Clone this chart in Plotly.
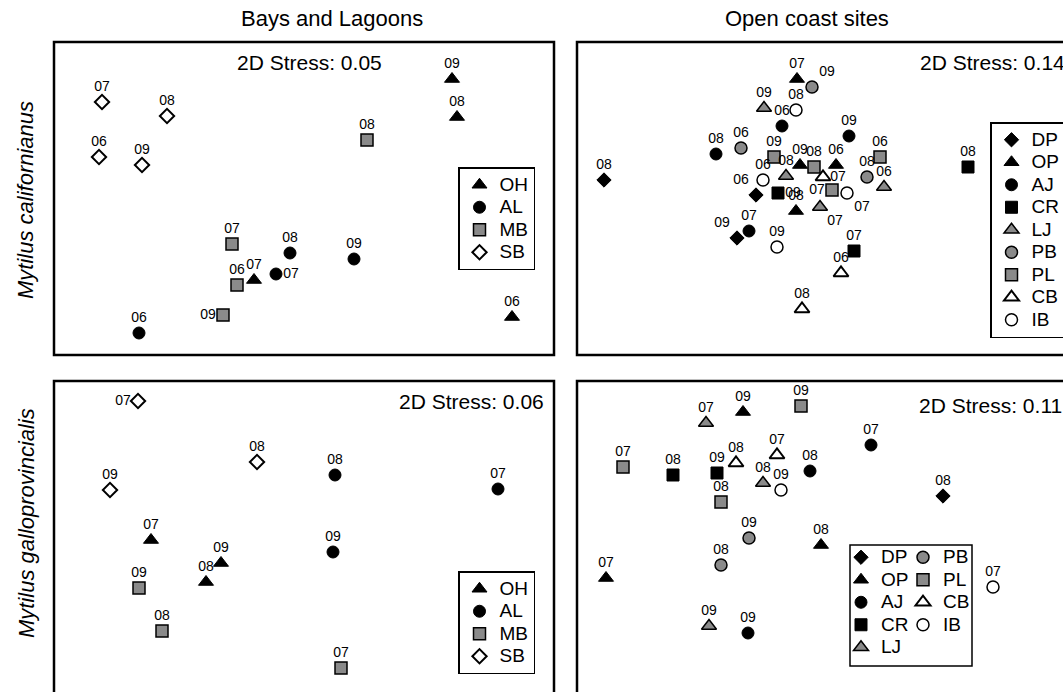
import plotly.graph_objects as go

W, H = 1063, 692

# ---------------- data: MDS scores (arbitrary units) ----------------
# Mytilus californianus - Bays and Lagoons
mcb_site = ["OH", "OH", "OH", "OH", "AL", "AL", "AL", "AL", "MB", "MB", "MB", "MB", "SB", "SB", "SB", "SB"]
mcb_year = ["06", "07", "08", "09", "06", "07", "08", "09", "06", "07", "08", "09", "06", "07", "08", "09"]
mcb_x = [458, 200, 403, 398, 85, 222, 236, 300, 183, 178, 313, 169, 45, 48, 113, 88]
mcb_y = [38, 75, 238, 276, 22, 81, 102, 96, 70, 111, 215, 40, 198, 253, 239, 190]

# Mytilus californianus - Open coast sites
mco_site = ["DP", "DP", "DP", "OP", "OP", "OP", "OP", "AJ", "AJ", "AJ", "AJ", "CR", "CR", "CR",
            "LJ", "LJ", "LJ", "LJ", "PB", "PB", "PB", "PL", "PL", "PL", "PL", "CB", "CB", "CB",
            "IB", "IB", "IB", "IB"]
mco_year = ["06", "08", "09", "06", "07", "08", "09", "06", "07", "08", "09", "07", "08", "09",
            "06", "07", "08", "09", "06", "08", "09", "06", "07", "08", "09", "06", "07", "08",
            "06", "07", "08", "09"]
mco_x = [179, 27, 160, 259, 220, 219, 223, 205, 172, 139, 272, 277, 391, 201,
         307, 243, 209, 187, 164, 290, 235, 303, 255, 237, 197, 264, 246, 225,
         186, 270, 219, 200]
mco_y = [160, 175, 117, 190, 276, 144, 190, 229, 124, 201, 219, 104, 188, 162,
         168, 148, 179, 247, 207, 178, 268, 198, 165, 188, 198, 82, 178, 46,
         175, 162, 245, 108]

# Mytilus galloprovincialis - Bays and Lagoons
mgb_site = ["OH", "OH", "OH", "AL", "AL", "AL", "MB", "MB", "MB", "SB", "SB", "SB"]
mgb_year = ["07", "08", "09", "07", "08", "09", "07", "08", "09", "07", "08", "09"]
mgb_x = [97, 152, 167, 444, 281, 279, 287, 108, 85, 84, 203, 56]
mgb_y = [154, 112, 131, 205, 219, 142, 26, 63, 106, 293, 232, 204]

# Mytilus galloprovincialis - Open coast sites
mgo_site = ["DP", "OP", "OP", "OP", "AJ", "AJ", "AJ", "CR", "CR", "LJ", "LJ", "LJ",
            "PB", "PB", "PL", "PL", "PL", "CB", "CB", "IB", "IB"]
mgo_year = ["08", "07", "08", "09", "07", "08", "09", "08", "09", "07", "08", "09",
            "08", "09", "07", "08", "09", "07", "08", "07", "09"]
mgo_x = [366, 29, 244, 166, 294, 233, 171, 96, 140, 129, 186, 132,
         144, 172, 46, 144, 224, 200, 159, 416, 204]
mgo_y = [198, 116, 149, 282, 249, 223, 61, 219, 221, 271, 211, 68,
         129, 156, 227, 192, 288, 239, 231, 107, 204]

bay_sites = ["OH", "AL", "MB", "SB"]
coast_sites = ["DP", "OP", "AJ", "CR", "LJ", "PB", "PL", "CB", "IB"]
stress = ["0.05", "0.14", "0.06", "0.11"]
col_titles = ["Bays and Lagoons", "Open coast sites"]
row_titles = ["Mytilus californianus", "Mytilus galloprovincialis"]

# ---------------- styles ----------------
GRAY = "#8a8a8a"
STYLE = {  # symbol, fill, line width, size
    "OH": ("triangle-up", "black", 1, 13),
    "AL": ("circle", "black", 1, 12),
    "MB": ("square", GRAY, 1.5, 12),
    "SB": ("diamond", "white", 2, 11),
    "DP": ("diamond", "black", 1, 11),
    "OP": ("triangle-up", "black", 1, 13),
    "AJ": ("circle", "black", 1, 12),
    "CR": ("square", "black", 1, 12),
    "LJ": ("triangle-up", GRAY, 1.5, 13),
    "PB": ("circle", GRAY, 1.5, 12),
    "PL": ("square", GRAY, 1.5, 12),
    "CB": ("triangle-up", "white", 2, 13),
    "IB": ("circle", "white", 1.5, 12),
}
LABEL_POS = [
    {("AL", "07"): "middle right", ("MB", "09"): "middle left"},
    {("PB", "09"): "top right", ("DP", "06"): "top left", ("CR", "09"): "middle right",
     ("PL", "07"): "middle left", ("IB", "07"): "bottom right", ("LJ", "07"): "bottom right",
     ("DP", "09"): "top left", ("CB", "07"): "middle right"},
    {("SB", "07"): "middle left"},
    {},
]
LABEL_FONT = dict(family="Liberation Sans Narrow, Liberation Sans, Arial", size=14, color="black")
TEXT_FONT = "Liberation Sans, Arial, Helvetica, sans-serif"

# panel geometry (pixels)
LEFT_X = (54, 554)
RIGHT_X = (577, 1077)
TOP_Y = (42, 355)
BOT_Y = (381, 694)

panels = [
    (mcb_site, mcb_year, mcb_x, mcb_y, bay_sites, LEFT_X, TOP_Y, "legend"),
    (mco_site, mco_year, mco_x, mco_y, coast_sites, RIGHT_X, TOP_Y, "legend3"),
    (mgb_site, mgb_year, mgb_x, mgb_y, bay_sites, LEFT_X, BOT_Y, "legend2"),
    (mgo_site, mgo_year, mgo_x, mgo_y, coast_sites, RIGHT_X, BOT_Y, None),
]

fig = go.Figure()
layout_axes = {}

for i, (site, year, xs, ys, order, (px0, px1), (py0, py1), leg) in enumerate(panels):
    ax = "" if i == 0 else str(i + 1)
    vx1 = min(px1, W)
    vy1 = min(py1, H)
    layout_axes["xaxis" + ax] = dict(domain=[px0 / W, vx1 / W], range=[0, vx1 - px0],
                                     visible=False, fixedrange=True)
    layout_axes["yaxis" + ax] = dict(domain=[1 - vy1 / H, 1 - py0 / H], range=[py1 - vy1, py1 - py0],
                                     visible=False, fixedrange=True)
    for s in order:
        idx = [k for k, v in enumerate(site) if v == s]
        sym, fill, lw, size = STYLE[s]
        if leg is None:
            legname = "legend4" if order.index(s) < 5 else "legend5"
        else:
            legname = leg
        fig.add_trace(go.Scatter(
            x=[xs[k] for k in idx], y=[ys[k] for k in idx], mode="markers",
            name='<span style="font-size:19px">%s</span>' % s,
            marker=dict(symbol=sym, color=fill, size=size, line=dict(color="black", width=lw)),
            xaxis="x" + ax, yaxis="y" + ax, legend=legname, hoverinfo="skip",
        ))
    # year labels
    fig.add_trace(go.Scatter(
        x=xs, y=ys, mode="markers+text", text=year,
        textposition=[LABEL_POS[i].get((s, yv), "top center") for s, yv in zip(site, year)],
        textfont=LABEL_FONT,
        marker=dict(size=10, color="rgba(0,0,0,0)", line=dict(width=0)),
        xaxis="x" + ax, yaxis="y" + ax, showlegend=False, hoverinfo="skip",
    ))

shapes = []
for (px0, px1), (py0, py1) in [(LEFT_X, TOP_Y), (RIGHT_X, TOP_Y), (LEFT_X, BOT_Y), (RIGHT_X, BOT_Y)]:
    shapes.append(dict(type="rect", xref="paper", yref="paper",
                       x0=px0 / W, x1=px1 / W, y0=1 - py1 / H, y1=1 - py0 / H,
                       line=dict(color="black", width=2.5), layer="above"))
# box around the two-column legend
shapes.append(dict(type="rect", xref="paper", yref="paper",
                   x0=850 / W, x1=972 / W, y0=1 - 666 / H, y1=1 - 545 / H,
                   line=dict(color="black", width=1.5), layer="above"))

annotations = [
    dict(text=col_titles[0], x=332 / W, y=1 - 19 / H, xanchor="center", yanchor="middle",
         font=dict(size=22)),
    dict(text=col_titles[1], x=807 / W, y=1 - 19 / H, xanchor="center", yanchor="middle",
         font=dict(size=22)),
    dict(text="<i>%s</i>" % row_titles[0], x=26 / W, y=1 - 200 / H, textangle=-90,
         xanchor="center", yanchor="middle", font=dict(size=22)),
    dict(text="<i>%s</i>" % row_titles[1], x=26 / W, y=1 - 523 / H, textangle=-90,
         xanchor="center", yanchor="middle", font=dict(size=22)),
    dict(text="2D Stress: " + stress[0], x=309 / W, y=1 - 62 / H, xanchor="center", yanchor="middle",
         font=dict(size=21)),
    dict(text="2D Stress: " + stress[1], x=918 / W, y=1 - 62 / H, xanchor="left", yanchor="middle",
         font=dict(size=21)),
    dict(text="2D Stress: " + stress[2], x=546 / W, y=1 - 401 / H, xanchor="right", yanchor="middle",
         font=dict(size=21)),
    dict(text="2D Stress: " + stress[3], x=917 / W, y=1 - 405 / H, xanchor="left", yanchor="middle",
         font=dict(size=21)),
]
for a in annotations:
    a.update(xref="paper", yref="paper", showarrow=False)
    a["font"].update(family=TEXT_FONT, color="black")

leg_common = dict(xanchor="left", yanchor="top", xref="paper", yref="paper",
                  font=dict(family=TEXT_FONT, size=15, color="black"),
                  tracegroupgap=0, traceorder="normal", itemclick=False)
legends = dict(
    legend=dict(x=458 / W, y=1 - 167 / H, bordercolor="black", borderwidth=1.5,
                bgcolor="white", **leg_common),
    legend2=dict(x=458 / W, y=1 - 571 / H, bordercolor="black", borderwidth=1.5,
                 bgcolor="white", **leg_common),
    legend3=dict(x=990 / W, y=1 - 122 / H, bordercolor="black", borderwidth=1.5,
                 bgcolor="white", **leg_common),
    legend4=dict(x=841 / W, y=1 - 541 / H, borderwidth=0, bgcolor="rgba(0,0,0,0)", **leg_common),
    legend5=dict(x=903 / W, y=1 - 541 / H, borderwidth=0, bgcolor="rgba(0,0,0,0)", **leg_common),
)

fig.update_layout(
    width=W, height=H,
    margin=dict(l=0, r=0, t=0, b=0, autoexpand=False),
    paper_bgcolor="white", plot_bgcolor="white",
    font=dict(family=TEXT_FONT, color="black"),
    shapes=shapes, annotations=annotations,
    **layout_axes, **legends,
)

fig.write_html("out.html", config={"displayModeBar": False, "staticPlot": True},
               post_script="document.body.style.margin='0';")
